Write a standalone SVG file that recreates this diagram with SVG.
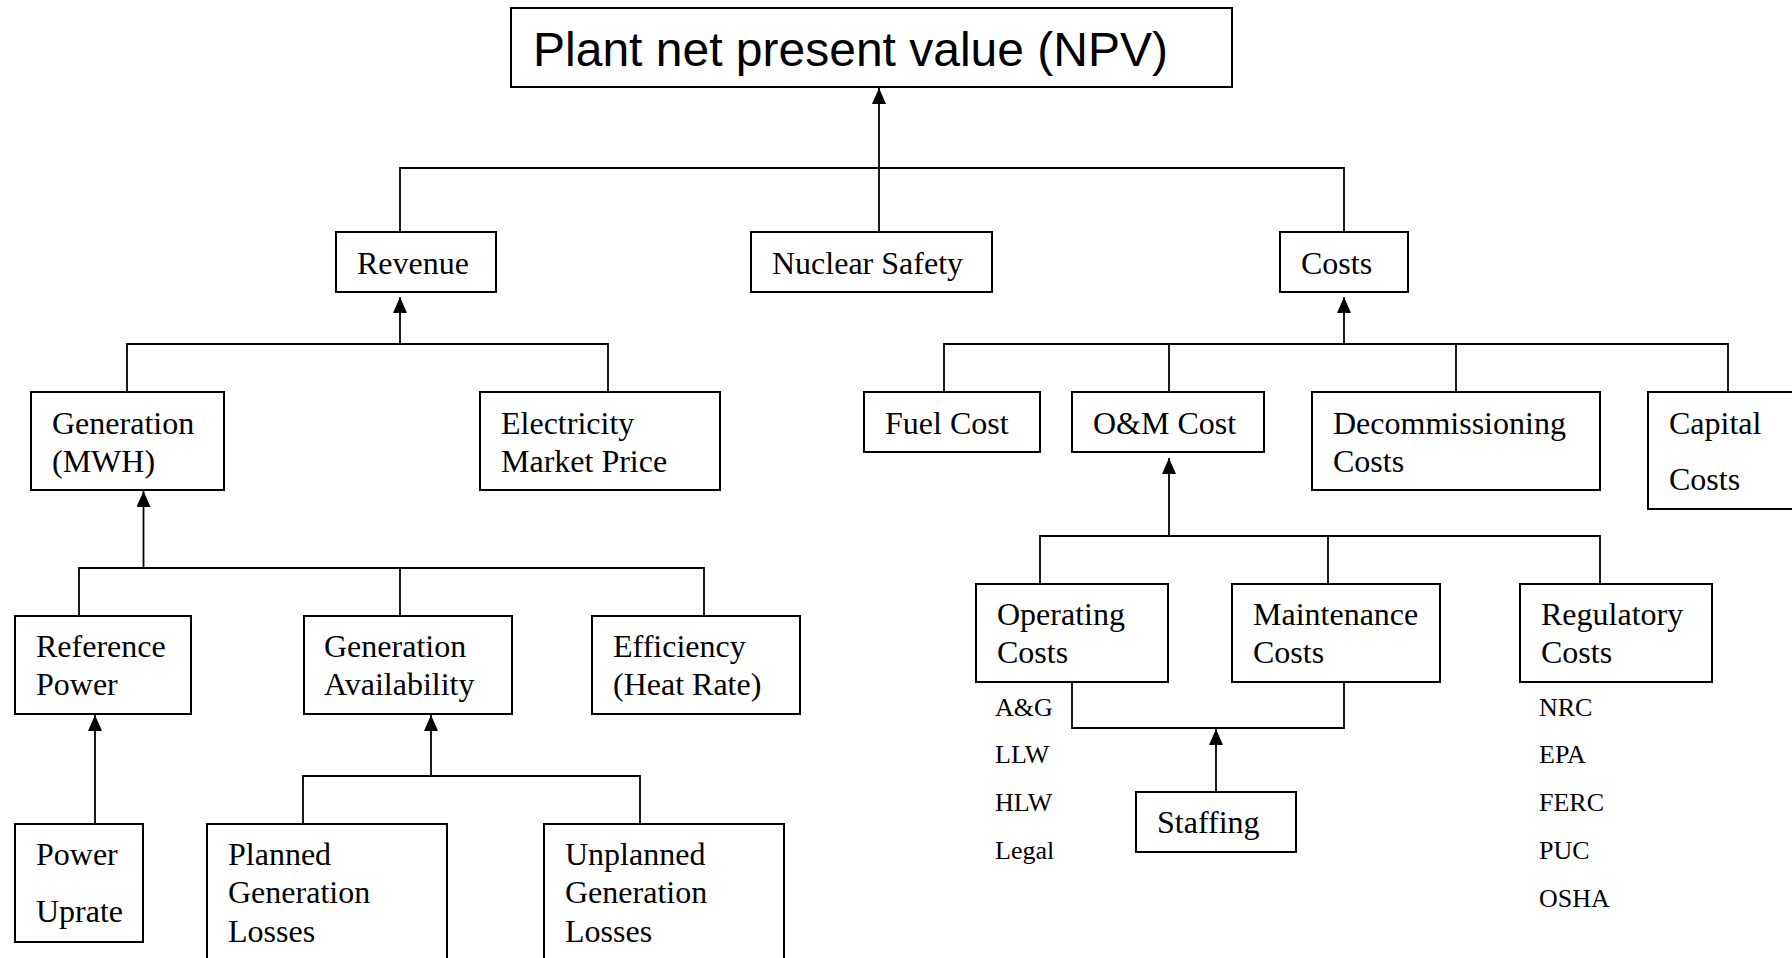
<svg xmlns="http://www.w3.org/2000/svg" width="1792" height="958" viewBox="0 0 1792 958">
  <style>
    .box { fill: #ffffff; stroke: #000000; stroke-width: 2; }
    .lbl { font-family: "Liberation Serif", "Times New Roman", serif; font-size: 32px; fill: #000000; }
    .item { font-family: "Liberation Serif", "Times New Roman", serif; font-size: 26px; fill: #000000; }
    .title { font-family: "Liberation Sans", Arial, sans-serif; font-size: 48px; fill: #000000; }
    .wire { fill: none; stroke: #000000; stroke-width: 1.8; }
  </style>
  <defs>
    <marker id="arrow" viewBox="0 0 16 14" refX="16" refY="7" markerWidth="16" markerHeight="14" markerUnits="userSpaceOnUse" orient="auto">
      <path d="M0,0 L16,7 L0,14 z" fill="#000000"/>
    </marker>
  </defs>
  <rect width="1792" height="958" fill="#ffffff"/>

  <!-- connectors -->
  <g id="connectors">
    <path class="wire" d="M400,232 V168 H1344 V232"/>
    <path class="wire" d="M879,232 V88" marker-end="url(#arrow)"/>

    <path class="wire" d="M127,392 V344 H608 V392"/>
    <path class="wire" d="M400,344 V297" marker-end="url(#arrow)"/>

    <path class="wire" d="M944,392 V344 H1728 V392"/>
    <path class="wire" d="M1169,344 V392"/>
    <path class="wire" d="M1456,344 V392"/>
    <path class="wire" d="M1344,344 V297" marker-end="url(#arrow)"/>

    <path class="wire" d="M79,616 V568 H704 V616"/>
    <path class="wire" d="M400,568 V616"/>
    <path class="wire" d="M143.5,568 V491" marker-end="url(#arrow)"/>

    <path class="wire" d="M95,824 V715" marker-end="url(#arrow)"/>

    <path class="wire" d="M303,824 V776 H640 V824"/>
    <path class="wire" d="M431,776 V715" marker-end="url(#arrow)"/>

    <path class="wire" d="M1040,584 V536 H1600 V584"/>
    <path class="wire" d="M1328,536 V584"/>
    <path class="wire" d="M1169,536 V458" marker-end="url(#arrow)"/>

    <path class="wire" d="M1072,682 V728 H1344 V682"/>
    <path class="wire" d="M1216,792 V729" marker-end="url(#arrow)"/>
  </g>

  <!-- nodes -->
  <g id="npv">
    <rect class="box" x="511" y="8" width="721" height="79"/>
    <text class="title" x="533" y="66">Plant net present value (NPV)</text>
  </g>
  <g id="revenue">
    <rect class="box" x="336" y="232" width="160" height="60"/>
    <text class="lbl" x="357" y="274">Revenue</text>
  </g>
  <g id="nuclear-safety">
    <rect class="box" x="751" y="232" width="241" height="60"/>
    <text class="lbl" x="772" y="274">Nuclear Safety</text>
  </g>
  <g id="costs">
    <rect class="box" x="1280" y="232" width="128" height="60"/>
    <text class="lbl" x="1301" y="274">Costs</text>
  </g>

  <g id="generation">
    <rect class="box" x="31" y="392" width="193" height="98"/>
    <text class="lbl" x="52" y="434">Generation</text>
    <text class="lbl" x="52" y="472">(MWH)</text>
  </g>
  <g id="market-price">
    <rect class="box" x="480" y="392" width="240" height="98"/>
    <text class="lbl" x="501" y="434">Electricity</text>
    <text class="lbl" x="501" y="472">Market Price</text>
  </g>
  <g id="fuel-cost">
    <rect class="box" x="864" y="392" width="176" height="60"/>
    <text class="lbl" x="885" y="434">Fuel Cost</text>
  </g>
  <g id="om-cost">
    <rect class="box" x="1072" y="392" width="192" height="60"/>
    <text class="lbl" x="1093" y="434">O&amp;M Cost</text>
  </g>
  <g id="decommissioning">
    <rect class="box" x="1312" y="392" width="288" height="98"/>
    <text class="lbl" x="1333" y="434">Decommissioning</text>
    <text class="lbl" x="1333" y="472">Costs</text>
  </g>
  <g id="capital">
    <rect class="box" x="1648" y="392" width="146" height="117"/>
    <text class="lbl" x="1669" y="434">Capital</text>
    <text class="lbl" x="1669" y="490">Costs</text>
  </g>

  <g id="reference-power">
    <rect class="box" x="15" y="616" width="176" height="98"/>
    <text class="lbl" x="36" y="657">Reference</text>
    <text class="lbl" x="36" y="695">Power</text>
  </g>
  <g id="generation-availability">
    <rect class="box" x="304" y="616" width="208" height="98"/>
    <text class="lbl" x="324" y="657">Generation</text>
    <text class="lbl" x="324" y="695">Availability</text>
  </g>
  <g id="efficiency">
    <rect class="box" x="592" y="616" width="208" height="98"/>
    <text class="lbl" x="613" y="657">Efficiency</text>
    <text class="lbl" x="613" y="695">(Heat Rate)</text>
  </g>

  <g id="operating">
    <rect class="box" x="976" y="584" width="192" height="98"/>
    <text class="lbl" x="997" y="625">Operating</text>
    <text class="lbl" x="997" y="663">Costs</text>
    <text class="item" x="995" y="716">A&amp;G</text>
    <text class="item" x="995" y="763">LLW</text>
    <text class="item" x="995" y="811">HLW</text>
    <text class="item" x="995" y="859">Legal</text>
  </g>
  <g id="maintenance">
    <rect class="box" x="1232" y="584" width="208" height="98"/>
    <text class="lbl" x="1253" y="625">Maintenance</text>
    <text class="lbl" x="1253" y="663">Costs</text>
  </g>
  <g id="regulatory">
    <rect class="box" x="1520" y="584" width="192" height="98"/>
    <text class="lbl" x="1541" y="625">Regulatory</text>
    <text class="lbl" x="1541" y="663">Costs</text>
    <text class="item" x="1539" y="716">NRC</text>
    <text class="item" x="1539" y="763">EPA</text>
    <text class="item" x="1539" y="811">FERC</text>
    <text class="item" x="1539" y="859">PUC</text>
    <text class="item" x="1539" y="907">OSHA</text>
  </g>

  <g id="power-uprate">
    <rect class="box" x="15" y="824" width="128" height="118"/>
    <text class="lbl" x="36" y="865">Power</text>
    <text class="lbl" x="36" y="922">Uprate</text>
  </g>
  <g id="planned-losses">
    <rect class="box" x="207" y="824" width="240" height="150"/>
    <text class="lbl" x="228" y="865">Planned</text>
    <text class="lbl" x="228" y="903">Generation</text>
    <text class="lbl" x="228" y="942">Losses</text>
  </g>
  <g id="unplanned-losses">
    <rect class="box" x="544" y="824" width="240" height="150"/>
    <text class="lbl" x="565" y="865">Unplanned</text>
    <text class="lbl" x="565" y="903">Generation</text>
    <text class="lbl" x="565" y="942">Losses</text>
  </g>
  <g id="staffing">
    <rect class="box" x="1136" y="792" width="160" height="60"/>
    <text class="lbl" x="1157" y="833">Staffing</text>
  </g>
</svg>
